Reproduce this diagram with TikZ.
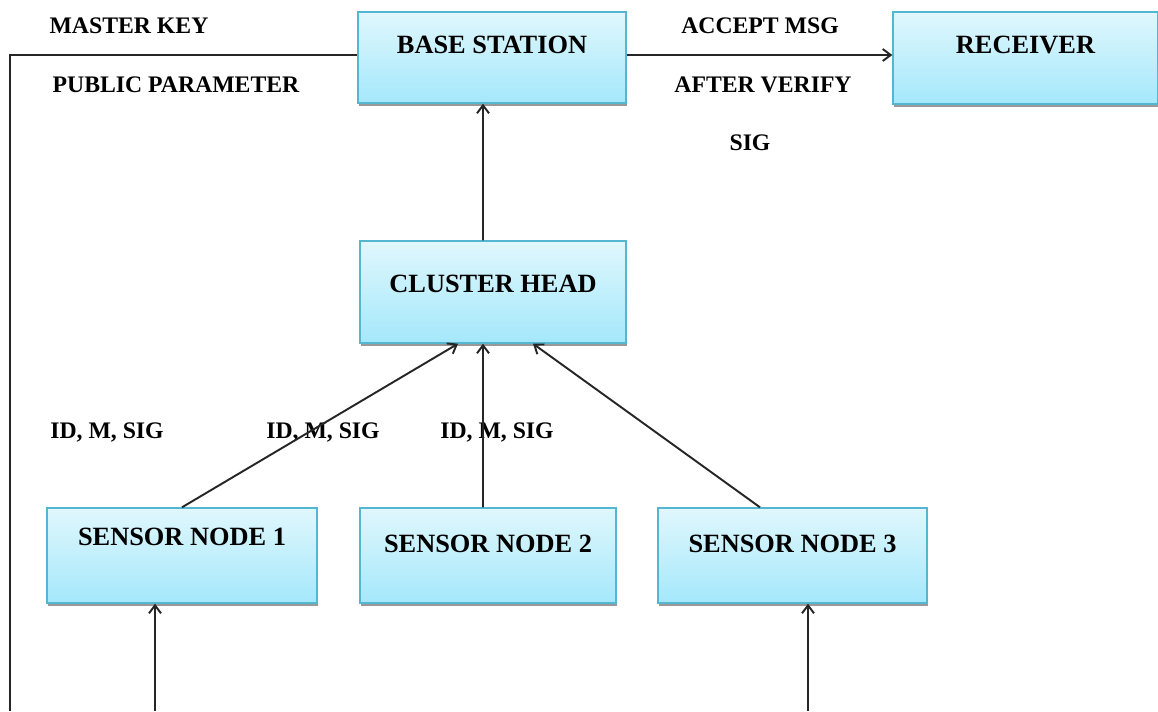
\documentclass[tikz,border=0pt]{standalone}
\usepackage{fontspec}
\setmainfont{Liberation Serif}
\usetikzlibrary{arrows.meta,shadows}
\definecolor{boxtop}{HTML}{E0F7FD}
\definecolor{boxbot}{HTML}{A4E8FB}
\definecolor{boxline}{HTML}{55B6D2}
\definecolor{ln}{HTML}{262626}
\begin{document}
\begin{tikzpicture}[x=0.02cm,y=-0.02cm,
        b/.style ={draw=boxline, line width=0.8pt, top color=boxtop, bottom color=boxbot,
                   drop shadow={shadow xshift=0.6pt, shadow yshift=-1.6pt, fill=black!40, opacity=1},
                   inner sep=0pt, font=\fontsize{15}{18}\selectfont\bfseries},
        lb/.style={anchor=base, inner sep=0pt, font=\fontsize{13.5}{16}\selectfont\bfseries},
        l/.style ={draw=ln, line width=1.1pt},
        a/.style ={l, -{Straight Barb[length=1.6mm,width=2.4mm]}}]
        \useasboundingbox (0,0) rectangle (1158,711);
        \node[b, minimum width=5.36cm, text height=0.82cm, text depth=1.0cm]  (bs)  at (492,57.5)  {BASE STATION};
        \node[b, minimum width=5.30cm, text height=0.82cm, text depth=1.02cm] (rc)  at (1025.5,58) {RECEIVER\hspace{0.5cm}};
        \node[b, minimum width=5.32cm, text height=1.02cm, text depth=1.02cm] (ch)  at (493,292)   {CLUSTER HEAD};
        \node[b, minimum width=5.40cm, text height=0.74cm, text depth=1.16cm] (sn1) at (182,555.5) {SENSOR NODE 1};
        \node[b, minimum width=5.12cm, text height=0.88cm, text depth=1.02cm] (sn2) at (488,555.5) {SENSOR NODE 2};
        \node[b, minimum width=5.38cm, text height=0.88cm, text depth=1.02cm] (sn3) at (792.5,555.5) {SENSOR NODE 3};
        \node[lb] (mk)  at (129,33)  {MASTER KEY};
        \node[lb] (pp)  at (176,92)  {PUBLIC PARAMETER};
        \node[lb] (am)  at (760,33)  {ACCEPT MSG};
        \node[lb] (av)  at (763,92)  {AFTER VERIFY};
        \node[lb] (sg)  at (750,150) {SIG};
        \foreach \x [count=\i from 1] in {107,323,497} {\node[lb] (id\i) at (\x,438) {ID, M, SIG};}
        \coordinate (lf) at (10,711);
        \coordinate (in1) at (155,711);
        \coordinate (in3) at (808,711);
% Verbindungen
        \draw[l] ([yshift=0.05cm]bs.west) -| (lf);
        \draw[a] ([yshift=0.05cm]bs.east) -- ([yshift=0.05cm]bs.east -| rc.west);
        \draw[a] ([xshift=-0.2cm]ch.north) -- ([xshift=-0.18cm]bs.south);
        \draw[a] (sn1.north) -- ([xshift=-0.7cm]ch.south);
        \draw[a] ([xshift=-0.1cm]sn2.north) -- ([xshift=-0.2cm]ch.south);
        \draw[a] ([xshift=-0.65cm]sn3.north) -- ([xshift=0.8cm]ch.south);
        \draw[a] (in1) -- (in1 |- sn1.south);
        \draw[a] (in3) -- (in3 |- sn3.south);
    \end{tikzpicture}
\end{document}
